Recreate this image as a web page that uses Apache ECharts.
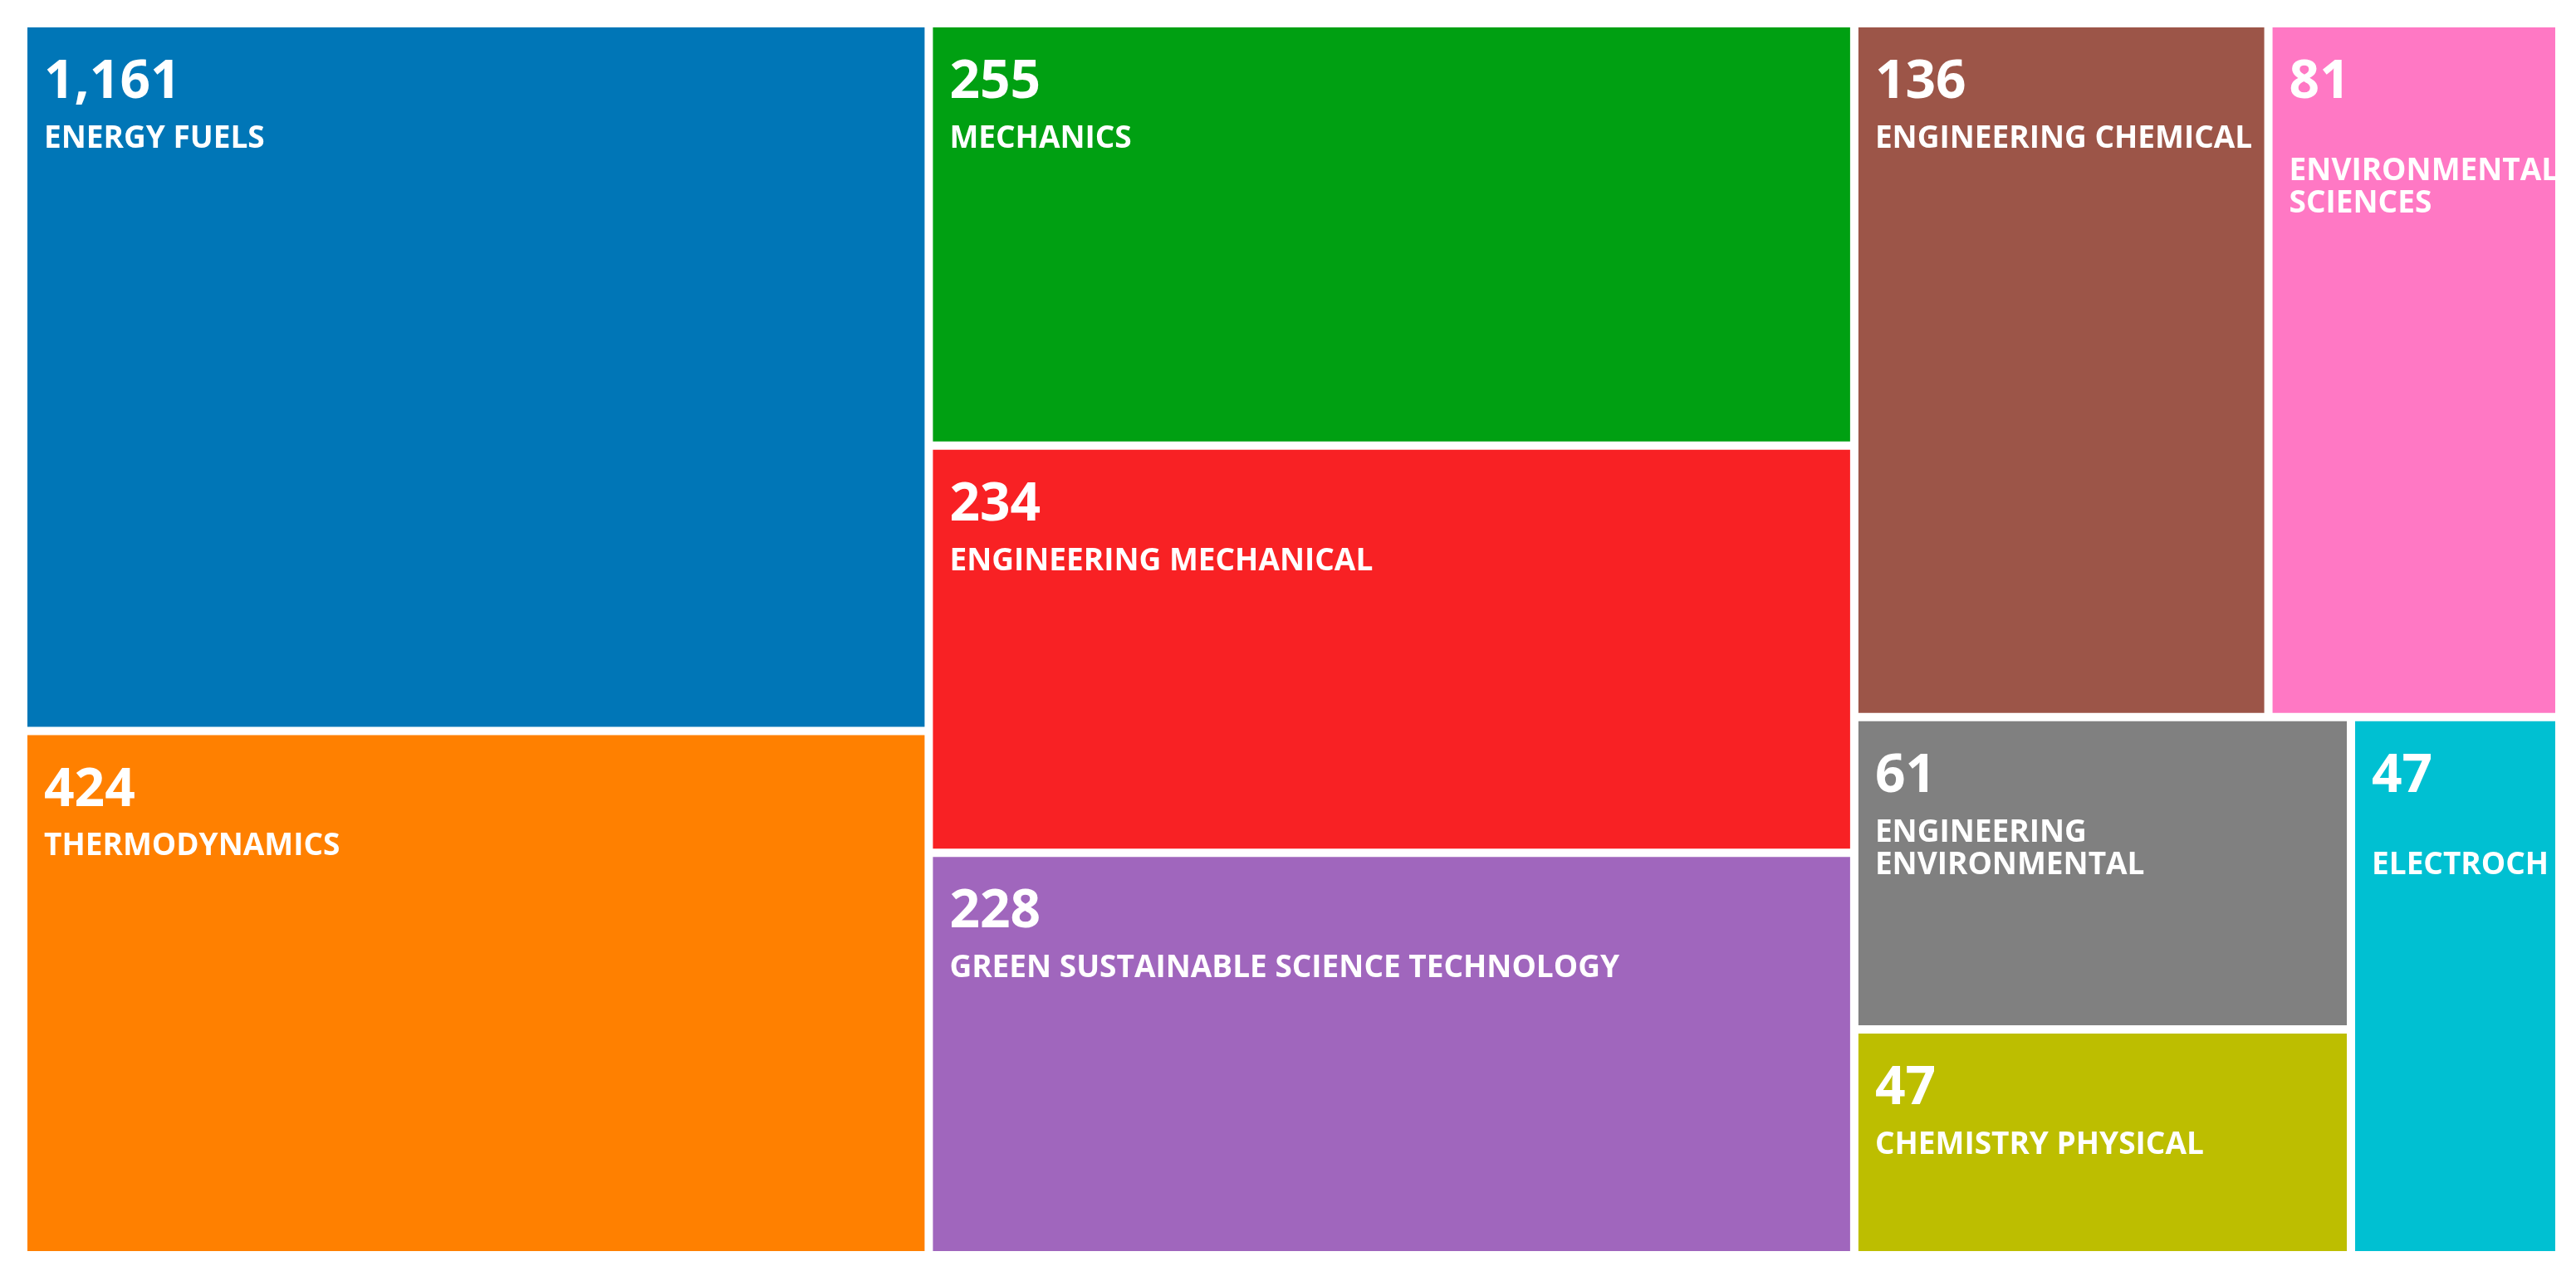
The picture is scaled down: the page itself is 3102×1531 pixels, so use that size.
<!DOCTYPE html>
<html>
<head>
<meta charset="utf-8">
<script src="https://cdn.jsdelivr.net/npm/echarts@6/dist/echarts.min.js"></script>
<style>
  html, body { margin: 0; padding: 0; background: #ffffff; }
  #chart { width: 3102px; height: 1531px; }
</style>
</head>
<body>
<div id="chart"></div>
<script>
// ---- data ----
const categories = [
  'ENERGY FUELS',
  'THERMODYNAMICS',
  'MECHANICS',
  'ENGINEERING MECHANICAL',
  'GREEN SUSTAINABLE SCIENCE TECHNOLOGY',
  'ENGINEERING CHEMICAL',
  'ENVIRONMENTAL SCIENCES',
  'ENGINEERING ENVIRONMENTAL',
  'CHEMISTRY PHYSICAL',
  'ELECTROCHEMISTRY'
];
const recordCounts = [1161, 424, 255, 234, 228, 136, 81, 61, 47, 47];

// ---- styling ----
const tileColors = [
  '#0076B7', '#FF8000', '#00A012', '#F82124', '#A066BD',
  '#9C5548', '#FF78C4', '#808080', '#BDBE00', '#00C0D2'
];
// line breaks of the category labels as they appear in the original
const labelLines = {
  'ENGINEERING ENVIRONMENTAL': 'ENGINEERING\nENVIRONMENTAL',
  'ENVIRONMENTAL SCIENCES': '\u00a0\nENVIRONMENTAL\nSCIENCES',
  'ELECTROCHEMISTRY': '\u00a0\nELECTROCHEMISTRY'
};
// labels that run to the tile edge in the original instead of being cut short
const edgeLabels = ['ENVIRONMENTAL SCIENCES'];
// the original treemap uses a logarithmic area scale: area ~ ln(count / floor)
const AREA_LOG_FLOOR = 23.8;

const FONT = '"Open Sans", "Noto Sans", sans-serif';

const seriesData = categories.map((name, i) => {
  const item = {
    name: name,
    value: Math.log(recordCounts[i] / AREA_LOG_FLOOR),
    count: recordCounts[i],
    itemStyle: { color: tileColors[i] }
  };
  if (edgeLabels.indexOf(name) >= 0) item.label = { overflow: 'none' };
  return item;
});

const chart = echarts.init(document.getElementById('chart'), null, { renderer: 'canvas' });
chart.setOption({
  backgroundColor: '#ffffff',
  animation: false,
  tooltip: { show: false },
  series: [{
    type: 'treemap',
    left: 33,
    top: 33,
    width: 3044,
    height: 1474,
    roam: false,
    nodeClick: false,
    sort: false,
    breadcrumb: { show: false },
    itemStyle: { borderWidth: 0, gapWidth: 10, borderColor: '#ffffff' },
    levels: [
      { itemStyle: { borderWidth: 0, gapWidth: 10, borderColor: '#ffffff' } }
    ],
    label: {
      show: true,
      position: 'insideTopLeft',
      padding: [19, 0, 0, 20],
      overflow: 'truncate',
      ellipsis: '',
      formatter: function (p) {
        const n = p.data.count.toLocaleString('en-US');
        const nm = labelLines[p.name] || p.name;
        return '{num|' + n + '}\n{name|' + nm + '}';
      },
      rich: {
        num: {
          fontFamily: FONT, fontSize: 64, fontWeight: 700,
          color: '#ffffff', lineHeight: 96
        },
        name: {
          fontFamily: FONT, fontSize: 37, fontWeight: 700,
          color: '#ffffff', lineHeight: 39
        }
      }
    },
    upperLabel: { show: false },
    emphasis: { disabled: true },
    data: seriesData
  }]
});
</script>
</body>
</html>
